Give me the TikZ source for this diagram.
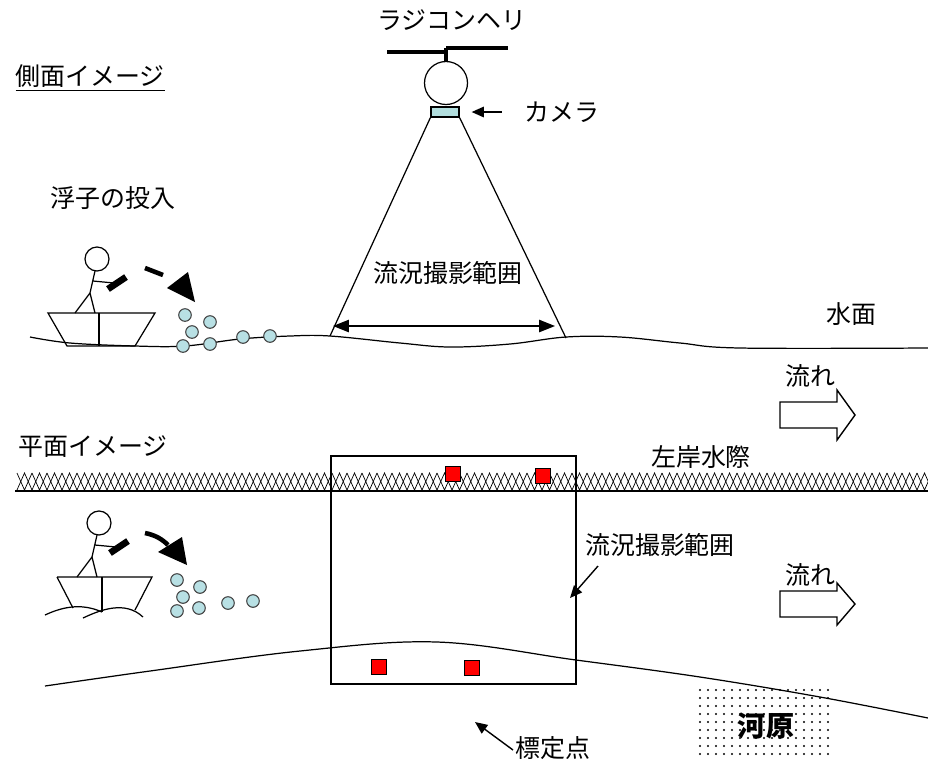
\documentclass[tikz,border=0pt]{standalone}
\usepackage{fontspec}
\setmainfont{Noto Sans CJK JP}
\usetikzlibrary{arrows.meta,positioning}

\definecolor{floatblue}{RGB}{184,224,228}
\definecolor{camblue}{RGB}{178,222,222}

\tikzset{
  lbl/.style={font=\fontsize{14.2}{16}\selectfont, inner sep=0pt},
  floatpt/.style={draw=black!75, fill=floatblue, line width=0.6pt},
  markbox/.style={draw, fill=red, line width=0.6pt, minimum size=0.31cm, inner sep=0pt},
  arr/.style={-{Triangle[length=7pt,width=6pt]}, line width=0.8pt},
}

\begin{document}
\begin{tikzpicture}[x=0.02cm, y=-0.02cm, line width=0.7pt]
\useasboundingbox (0,0) rectangle (928,762);

% --- side view ---
\node[lbl, anchor=west] (side) at (15,78) {\underline{側面イメージ}};
\node[lbl] (heli) at (452,20) {ラジコンヘリ};
\draw[line width=2.8pt] (387,52) -- (446,52) (446,48) -- (508,48);
\draw[line width=2.2pt] (446,48) -- (446,62);
\draw (446,83) circle[radius=21.5];
\node[draw, fill=camblue, minimum width=0.56cm, minimum height=0.2cm, inner sep=0pt] (cam) at (445,112) {};
\node[lbl] (camlbl) at (562,112) {カメラ};
\draw[arr, shorten <=0.44cm, shorten >=0.24cm] (camlbl.west) -- (cam.east);

% view cone and range
\coordinate (wl) at (330,336);
\coordinate (wr) at (566,338);
\draw (cam.south west) -- (wl) (cam.south east) -- (wr);
\node[lbl] (range) at (448,273) {流況撮影範囲};
\coordinate (rl) at (333,326);
\coordinate (rr) at (555,326);
\draw[{Triangle[length=9pt,width=7pt]}-{Triangle[length=9pt,width=7pt]}, line width=0.8pt] (rl) -- (rr);

% water surface
\draw plot[smooth, tension=0.6] coordinates {(30,337) (70,343) (135,346) (185,346) (240,339) (290,336) (330,336)
  (400,343) (450,347) (510,344) (566,337) (620,337) (680,343) (740,348) (928,348)};
\node[lbl] (surf) at (851,314) {水面};

\node[lbl] (drop) at (113,198) {浮子の投入};
\draw (48,313) -- (155,313) -- (135,346) -- (67,346) -- cycle;
\draw (99,313) -- (99,346);

% --- plan view ---
\node[lbl, anchor=west] (plan) at (18,447) {平面イメージ};
\foreach \x in {17,32,...,917} {
  \draw[line width=0.4pt] (\x,473) -- (\x+7.5,490) -- (\x+15,473);
  \draw[line width=0.4pt] (\x,490) -- (\x+7.5,473) -- (\x+15,490);
}
\draw[line width=1pt] (15,491) -- (928,491);
\node[lbl] (bank) at (701,457) {左岸水際};

% gravel bar
\foreach \x in {700,708,...,832}
  \foreach \y in {690,698,...,758}
    \fill (\x,\y) circle[radius=1.1];
\node[lbl, font=\fontsize{16}{18}\selectfont] (beach) at (766,726) {\bfseries 河原};
\draw plot[smooth, tension=0.6] coordinates {(45,686) (150,671) (300,651) (437,642) (576,660) (700,677) (820,697) (928,718)};

\node[draw, line width=0.9pt, minimum width=4.9cm, minimum height=4.56cm, inner sep=0pt] (area) at (453.5,570) {};
\foreach \p [count=\i] in {(453,474),(543,476),(379,667),(472,668)}
  \node[markbox] (pt\i) at \p {};

\node[lbl] (arealbl) at (660,545) {流況撮影範囲};
\coordinate (a1) at (598,566);
\coordinate (a2) at (570,598);
\draw[arr] (a1) -- (a2);

\node[lbl] (ctrl) at (553,748) {標定点};
\coordinate (c1) at (513,750);
\coordinate (c2) at (475,722);
\draw[arr] (c1) -- (c2);

% boat on the plan
\draw (57,577) -- (152,577) -- (135,610) (57,577) -- (73,608);
\draw (102,577) -- (102,612);
\draw (45,615) .. controls (60,608) and (80,602) .. (102,612);
\draw (83,618) .. controls (100,610) and (125,600) .. (143,617);

% thrower and floats, both views
\foreach \dx/\dy in {0/0,2/264} {
  \begin{scope}[shift={(\dx,\dy)}]
    \draw (97,259) circle[radius=12];
    \draw (95,271) -- (90,293) (75,313) -- (90,293) -- (95,313) (93,281) -- (114,283);
    \draw[line width=3.8pt] (108,289) -- (126,277);
  \end{scope}
}
\draw[line width=2.6pt] (145,268) -- (163,275);
\fill (167,288) -- (188,272) -- (195,302) -- cycle;
\draw[line width=2.6pt] (145,533) .. controls (155,535) and (162,539) .. (168,545);
\fill (158,552) -- (182,537) -- (187,565) -- cycle;

\foreach \p in {(185,315),(210,322),(192,332),(183,346),(210,344),(243,337),(270,336),
                (177,580),(200,587),(183,597),(177,611),(199,608),(228,603),(253,601)}
  \draw[floatpt] \p circle[radius=6.3];

% flow direction
\foreach \n/\t/\y/\h in {top/376/415/25,bot/575/604/21} {
  \node[lbl] (flow\n) at (810,\t) {流れ};
  \draw[line width=0.8pt] (780,\y-13) -- (837,\y-13) -- (837,\y-\h) -- (855,\y) -- (837,\y+\h) -- (837,\y+13) -- (780,\y+13) -- cycle;
}
\end{tikzpicture}
\end{document}
